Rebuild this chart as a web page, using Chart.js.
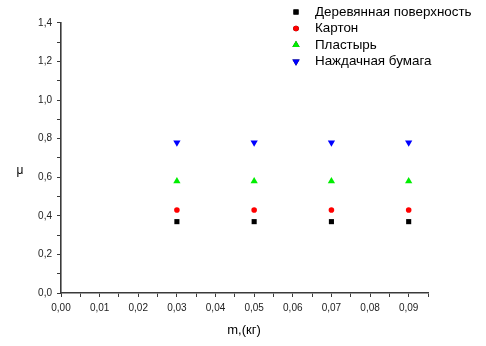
<!DOCTYPE html>
<html><head><meta charset="utf-8">
<script src="https://cdn.jsdelivr.net/npm/chart.js@4"></script>
<style>html,body{margin:0;padding:0;background:#fff}#w{width:486px;height:346px}</style>
</head><body><div id="w"><canvas id="c" width="486" height="346"></canvas></div>
<script>
const masses = [0.03, 0.05, 0.07, 0.09];
const seriesNames = ["Деревянная поверхность", "Картон", "Пластырь", "Наждачная бумага"];
const wood = [0.37, 0.37, 0.37, 0.37];
const cardboard = [0.43, 0.43, 0.43, 0.43];
const plaster = [0.58, 0.58, 0.58, 0.58];
const sandpaper = [0.78, 0.78, 0.78, 0.78];
const xTitle = "m,(кг)";
const yTitle = "μ";

const styles = [
  {c:'#000000', s:'rect', r:3.6, rot:0},
  {c:'#ff0000', s:'circle', r:2.8, rot:0},
  {c:'#00ee00', s:'triangle', r:4.2, rot:0},
  {c:'#0000ff', s:'triangle', r:4.2, rot:180}
];
const vals = [wood, cardboard, plaster, sandpaper];
const datasets = vals.map((v,i)=>({
  label: seriesNames[i],
  data: masses.map((m,j)=>({x:m, y:v[j]})),
  pointStyle: styles[i].s, pointRadius: styles[i].r, pointRotation: styles[i].rot,
  backgroundColor: styles[i].c, borderColor: styles[i].c, borderWidth: 0, showLine:false
}));

const fmt = (v,d)=> v.toFixed(d).replace('.', ',');
const tickFont = {family:'Arial, "Liberation Sans"', size:10};
const axisCol = '#3a3a3a';

const overlay = {
  id:'overlay',
  afterDraw(chart){
    const ctx = chart.ctx;
    ctx.save();
    ctx.fillStyle = '#000';
    ctx.font = '13px Arial, "Liberation Sans"';
    ctx.textAlign = 'center'; ctx.textBaseline = 'middle';
    ctx.fillText(xTitle, 244, 330);
    ctx.font = '12px Arial, "Liberation Sans"';
    ctx.fillText(yTitle, 20, 171);
    // legend
    ctx.textAlign = 'left';
    ctx.font = '13.4px Arial, "Liberation Sans"';
    chart.data.datasets.forEach((ds,i)=>{
      const y = 12 + i*16.5;
      Chart.helpers.drawPoint(ctx, {pointStyle: ds.pointStyle, radius: ds.pointRadius, rotation: ds.pointRotation, borderWidth:0}, 296, y);
      ctx.fillStyle = ds.backgroundColor; ctx.fill();
      ctx.fillStyle = '#000';
      ctx.fillText(ds.label, 315, y);
    });
    ctx.restore();
  }
};

new Chart(document.getElementById('c'), {
  type:'scatter',
  data:{datasets},
  options:{
    responsive:false, animation:false, devicePixelRatio:1,
    layout:{padding:{top:23, right:58, left:0, bottom:0}},
    plugins:{legend:{display:false}, tooltip:{enabled:false}},
    scales:{
      x:{
        type:'linear', min:0, max:0.095,
        afterFit(s){ s.height = 53; },
        afterBuildTicks(s){ const t=[]; for(let i=0;i<=19;i++) t.push({value:i*0.005}); s.ticks=t; },
        ticks:{ autoSkip:false, maxRotation:0, color:'#222', font:tickFont, padding:5,
          callback:(v,i)=> (i%2===0 && i<19) ? fmt(i*0.005,2) : '' },
        grid:{display:true, drawOnChartArea:false, tickLength:4, color:axisCol, lineWidth:1},
        border:{display:true, color:axisCol, width:1.6}
      },
      y:{
        type:'linear', min:0, max:1.4,
        afterFit(s){ s.width = 61; },
        afterBuildTicks(s){ const t=[]; for(let i=0;i<=14;i++) t.push({value:i*0.1}); s.ticks=t; },
        ticks:{ autoSkip:false, color:'#222', font:tickFont, padding:5,
          callback:(v,i)=> (i%2===0) ? fmt(i*0.1,1) : '' },
        grid:{display:true, drawOnChartArea:false, tickLength:4, color:axisCol, lineWidth:1},
        border:{display:true, color:axisCol, width:1.6}
      }
    }
  },
  plugins:[overlay]
});
</script></body></html>
